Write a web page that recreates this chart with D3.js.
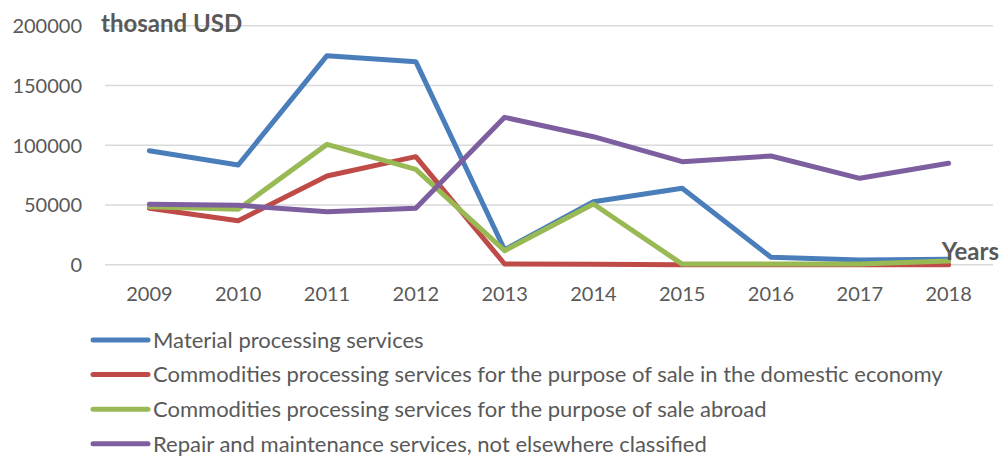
<!DOCTYPE html>
<html lang="en">
<head>
<meta charset="UTF-8">
<title>Processing services</title>
<script src="https://cdn.jsdelivr.net/npm/d3@7"></script>
<style>
  body{ margin:0; background:#fff; }
  .axis text{ font-family: Lato, "Open Sans", sans-serif; font-size:20px; fill:#595959; }
  .axis path, .axis line{ display:none; }
  .grid line{ stroke:#d9d9d9; stroke-width:1.5px; }
  .legend text{ font-family: Lato, "Open Sans", sans-serif; font-size:22px; fill:#595959; }
  .unit{ font-family: Lato, "Open Sans", sans-serif; font-size:24px; font-weight:bold; fill:#595959; }
</style>
</head>
<body>
<div id="container"></div>
<script>
// years on the x axis
const years = ["2009","2010","2011","2012","2013","2014","2015","2016","2017","2018"];
// y tick values
const yTicks = [0, 50000, 100000, 150000, 200000];

const seriesNames = [
  "Material processing services",
  "Commodities processing services for the purpose of sale in the domestic economy",
  "Commodities processing services for the purpose of sale abroad",
  "Repair and maintenance services, not elsewhere classified"
];
const material   = [95400, 83400, 174900, 169900, 12500, 52700, 63900, 6200, 3900, 4500];
const domestic   = [47200, 36800, 74200, 90400, 600, 300, 0, 0, 0, 0];
const abroad     = [48500, 46400, 100700, 79800, 11700, 50800, 500, 500, 500, 3000];
const repair     = [50500, 49700, 44300, 47200, 123300, 107100, 86200, 91000, 72300, 84900];
const colors = ["#4a7ebb", "#be4b48", "#98b954", "#7d5fa0"];

const width = 999, height = 457;
const plotLeft = 105, plotRight = 993, plotTop = 25.7, plotBottom = 264.7;

const svg = d3.select("#container").append("svg")
  .attr("width", width).attr("height", height);

const x = d3.scaleBand().domain(years).range([plotLeft, plotRight]);
const y = d3.scaleLinear().domain([0, 200000]).range([plotBottom, plotTop]);

// gridlines
svg.append("g").attr("class","grid")
  .selectAll("line").data(yTicks).enter().append("line")
  .attr("x1", plotLeft).attr("x2", plotRight)
  .attr("y1", d => y(d)).attr("y2", d => y(d));

// axes
svg.append("g").attr("class","axis")
  .attr("transform","translate(" + (plotLeft - 23) + ",0)")
  .call(d3.axisLeft(y).tickValues(yTicks).tickSize(0).tickPadding(0).tickFormat(d3.format("d")))
  .selectAll("text").attr("dy","0.35em");

svg.append("g").attr("class","axis")
  .attr("transform","translate(0," + (plotBottom + 22) + ")")
  .call(d3.axisBottom(x).tickSize(0).tickPadding(0))
  .selectAll("text").attr("dy","0.71em");

// lines
const data = [material, domestic, abroad, repair];
const line = d3.line()
  .x((d, i) => x(years[i]) + x.bandwidth() / 2)
  .y(d => y(d));

svg.append("g").selectAll("path").data(data).enter().append("path")
  .attr("d", line)
  .attr("fill","none")
  .attr("stroke", (d, i) => colors[i])
  .attr("stroke-width", 5)
  .attr("stroke-linejoin","round")
  .attr("stroke-linecap","round");

// unit labels
svg.append("text").attr("class","unit").attr("x",101).attr("y",32).text("thosand USD");
svg.append("text").attr("class","unit").attr("x",999).attr("y",260)
  .attr("text-anchor","end").text("Years");

// legend
const legend = svg.append("g").attr("class","legend")
  .selectAll("g").data(seriesNames).enter().append("g")
  .attr("transform", (d, i) => "translate(93," + (340 + i * 34.6) + ")");
legend.append("line")
  .attr("x1", 0).attr("x2", 55)
  .attr("stroke", (d, i) => colors[i])
  .attr("stroke-width", 5)
  .attr("stroke-linecap","round");
legend.append("text")
  .attr("x", 60).attr("dy","0.35em")
  .text(d => d);
</script>
</body>
</html>
